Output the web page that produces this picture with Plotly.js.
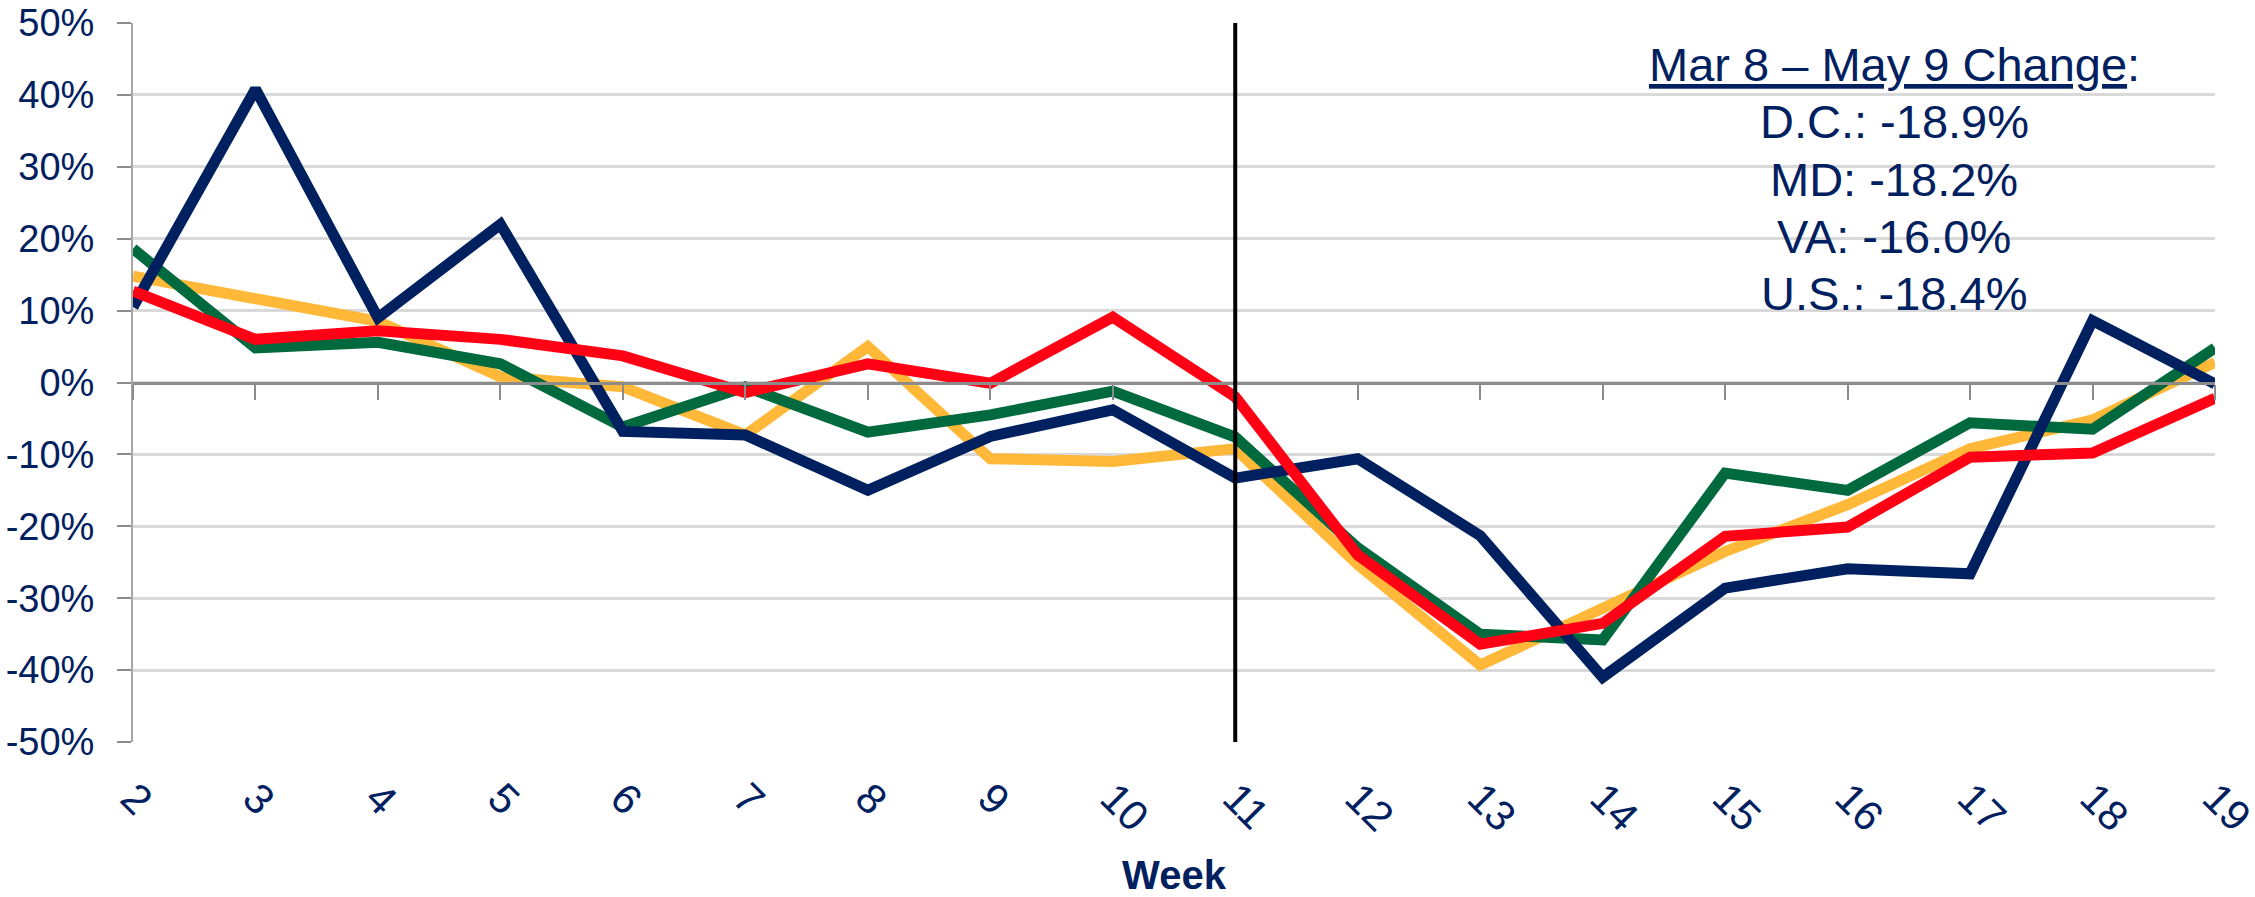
<!DOCTYPE html>
<html>
<head>
<meta charset="utf-8">
<script src="https://cdn.plot.ly/plotly-3.0.1.min.js"></script>
<style>html,body{margin:0;padding:0;background:#fff;}#chart{width:2255px;height:897px;}</style>
</head>
<body>
<div id="chart"></div>
<script>
// Weeks on the x axis
const weeks = [2,3,4,5,6,7,8,9,10,11,12,13,14,15,16,17,18,19];
// Percent change series
const dcValues = [10.5,40.8,9.0,22.0,-6.8,-7.3,-15.0,-7.5,-3.8,-13.3,-10.6,-21.3,-41.0,-28.6,-25.9,-26.6,8.6,-0.2];
const vaValues = [14.8,11.8,8.5,0.8,-0.6,-7.3,5.0,-10.6,-11.0,-9.2,-25.3,-39.3,-31.5,-23.5,-17.0,-9.2,-5.2,2.8];
const mdValues = [18.6,4.8,5.6,2.6,-6.2,-0.6,-6.9,-4.5,-1.2,-7.6,-23.0,-35.0,-35.8,-12.6,-15.0,-5.6,-6.5,4.8];
const usValues = [12.7,6.0,7.2,6.0,3.7,-1.4,2.6,-0.1,9.1,-2.0,-24.0,-36.4,-33.5,-21.4,-20.1,-10.4,-9.8,-2.2];
// Y tick values
const yTicks = [-50,-40,-30,-20,-10,0,10,20,30,40,50];
// Reference week marker
const markerWeek = 11;
// Annotation text lines
const changeTitle = 'Mar 8 \u2013 May 9 Change';
const changeLines = ['D.C.: -18.9%','MD: -18.2%','VA: -16.0%','U.S.: -18.4%'];

const navy = '#002060';
const fontFam = 'Arial, "Liberation Sans", sans-serif';

function series(name, y, color, w) {
  return {x: weeks, y: y, name: name, type: 'scatter', mode: 'lines',
    line: {color: color, width: w}, hoverinfo: 'skip'};
}

const data = [
  series('VA', vaValues, '#FFB838', 11),
  series('MD', mdValues, '#006A3E', 11),
  series('D.C.', dcValues, navy, 11),
  series('U.S.', usValues, '#FF0015', 11),
  {x: weeks, y: weeks.map(() => null), xaxis: 'x2', type: 'scatter', mode: 'lines', showlegend: false, hoverinfo: 'skip'}
];

// annotation block layout (paper coords)
const annX = 0.846, annTop = 0.942, annStep = 0.0795;
const annText = ['<u>' + changeTitle + '</u>:'].concat(changeLines);
const annotations = annText.map((t, i) => ({
  xref: 'paper', yref: 'paper', x: annX, y: annTop - i * annStep,
  xanchor: 'center', yanchor: 'middle', showarrow: false, text: t,
  font: {size: 47, color: navy, family: fontFam}
}));

const layout = {
  width: 2255, height: 897,
  margin: {l: 133, r: 40, t: 23, b: 155},
  paper_bgcolor: '#fff', plot_bgcolor: '#fff',
  showlegend: false,
  font: {family: fontFam, color: navy},
  xaxis: {
    range: [2, 19], tickvals: weeks, ticktext: weeks.map(String),
    tickangle: 45, tickfont: {size: 42, color: navy, family: fontFam},
    ticks: '', ticklabelstandoff: 22, ticklabeloverflow: 'allow',
    showgrid: false, zeroline: false, showline: false, automargin: false,
    title: {text: '<b>Week</b>', font: {size: 40, color: navy, family: fontFam}, standoff: 28}
  },
  xaxis2: {
    overlaying: 'x', anchor: 'free', position: 0.5, side: 'bottom',
    range: [2, 19], tickvals: weeks, showticklabels: false,
    ticks: 'outside', ticklen: 15, tickwidth: 2, tickcolor: '#8c8c8c',
    showline: true, linecolor: '#8c8c8c', linewidth: 3,
    showgrid: false, zeroline: false
  },
  yaxis: {
    range: [-50, 50], tickvals: yTicks, ticktext: yTicks.map(v => v + '%'),
    tickfont: {size: 38, color: navy, family: fontFam},
    ticks: 'outside', ticklen: 14, tickwidth: 2, tickcolor: '#8c8c8c',
    ticklabelstandoff: 15,
    showline: true, linecolor: '#a6a6a6', linewidth: 2,
    showgrid: true, gridcolor: '#d9d9d9', gridwidth: 3,
    zeroline: false, automargin: false
  },
  shapes: [{
    type: 'line', xref: 'x', yref: 'y', x0: markerWeek, x1: markerWeek, y0: -50, y1: 50,
    line: {color: '#000', width: 4}
  }],
  annotations: annotations
};

Plotly.newPlot('chart', data, layout, {displayModeBar: false, staticPlot: true});
</script>
</body>
</html>
